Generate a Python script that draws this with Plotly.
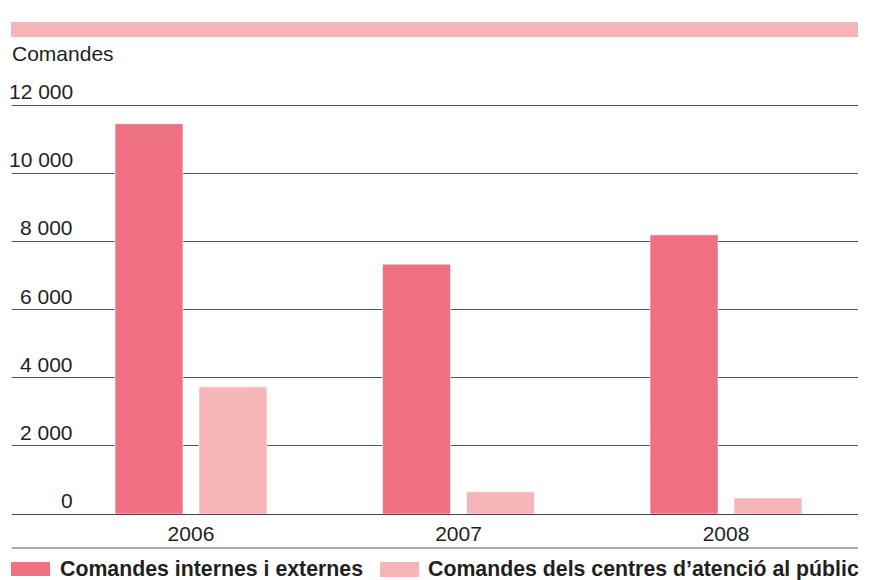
import plotly.graph_objects as go

# ---- data ----
years = ["2006", "2007", "2008"]
series_names = ["Comandes internes i externes", "Comandes dels centres d’atenció al públic"]
internes = [11450, 7330, 8190]
centres = [3730, 650, 470]
y_ticks = [0, 2000, 4000, 6000, 8000, 10000, 12000]
y_tick_labels = ["0", "2 000", "4 000", "6 000", "8 000", "10 000", "12 000"]
axis_title = "Comandes"

# ---- layout geometry (screen pixels; page body has an 8px margin) ----
OFF = 8
W, H = 870 - OFF, 580 - OFF
L, R = 12, 858
B = 514
Y0, Y12 = 514, 105          # pixel of 0 and 12000
ppu = (Y0 - Y12) / 12000.0  # pixels per unit
T = 103                     # plot top slightly above 12000 line so gridline shows
ytop = (Y0 - T) / ppu
PW, PH = R - L, B - T

def px_x(p):
    return (p - L) / PW

def px_y(p):
    return (B - p) / PH

DARK = "#EF7081"
LIGHT = "#F6B5B7"
TXT = "#231F20"
FONT = "Liberation Sans, Arial, Helvetica, sans-serif"

unit = 267.55  # pixels per category
bar_w = 68 / unit

fig = go.Figure()
fig.add_trace(go.Bar(x=years, y=internes, name=series_names[0], marker_color=DARK,
                     marker_line_color="white", marker_line_width=0.6,
                     width=bar_w, offset=-76 / unit, showlegend=False))
fig.add_trace(go.Bar(x=years, y=centres, name=series_names[1], marker_color=LIGHT,
                     marker_line_color="white", marker_line_width=0.6,
                     width=bar_w, offset=8 / unit, showlegend=False))

left_u = -(191 - L) / unit
right_u = 2 + (R - 726) / unit

fig.update_layout(
    width=W, height=H,
    margin=dict(l=L - OFF, r=W - (R - OFF), t=T - OFF, b=H - (B - OFF), pad=0),
    paper_bgcolor="white", plot_bgcolor="white",
    barmode="overlay",
    font=dict(family=FONT, size=21, color=TXT),
    xaxis=dict(type="category", range=[left_u, right_u], showgrid=False,
               showline=False, zeroline=False, ticks="",
               tickfont=dict(size=21, color=TXT), ticklabelstandoff=5),
    yaxis=dict(range=[0, ytop], tickvals=y_ticks, showticklabels=False,
               showgrid=True, gridcolor="#555555", gridwidth=1,
               zeroline=True, zerolinecolor="#444444", zerolinewidth=1,
               showline=False, ticks=""),
)

shapes = []
# top band
shapes.append(dict(type="rect", xref="paper", yref="paper",
                   x0=px_x(11), x1=px_x(858), y0=px_y(37), y1=px_y(22),
                   fillcolor=LIGHT, line_width=0, layer="above"))
# bottom separator line
shapes.append(dict(type="line", xref="paper", yref="paper",
                   x0=0, x1=1, y0=px_y(548), y1=px_y(548),
                   line=dict(color="#555555", width=1)))
# legend swatches
shapes.append(dict(type="rect", xref="paper", yref="paper",
                   x0=px_x(11), x1=px_x(50), y0=px_y(576), y1=px_y(562),
                   fillcolor=DARK, line_width=0))
shapes.append(dict(type="rect", xref="paper", yref="paper",
                   x0=px_x(380), x1=px_x(419), y0=px_y(577), y1=px_y(562),
                   fillcolor=LIGHT, line_width=0))
fig.update_layout(shapes=shapes)

annotations = []
for v, lab in zip(y_ticks, y_tick_labels):
    annotations.append(dict(x=px_x(74.5), xref="paper", y=v, yref="y", text=lab,
                            showarrow=False, xanchor="right", yanchor="bottom",
                            yshift=0, font=dict(size=21, color=TXT)))
annotations.append(dict(x=px_x(10), xref="paper", y=px_y(67), yref="paper",
                        text=axis_title, showarrow=False, xanchor="left",
                        yanchor="bottom", font=dict(size=21, color=TXT)))
annotations.append(dict(x=px_x(58), xref="paper", y=px_y(569), yref="paper",
                        text="<b>" + series_names[0] + "</b>", showarrow=False,
                        xanchor="left", yanchor="middle", font=dict(size=21.3, color=TXT)))
annotations.append(dict(x=px_x(426), xref="paper", y=px_y(569), yref="paper",
                        text="<b>" + series_names[1] + "</b>", showarrow=False,
                        xanchor="left", yanchor="middle", font=dict(size=21.3, color=TXT)))
fig.update_layout(annotations=annotations)

fig.write_html("out.html")
